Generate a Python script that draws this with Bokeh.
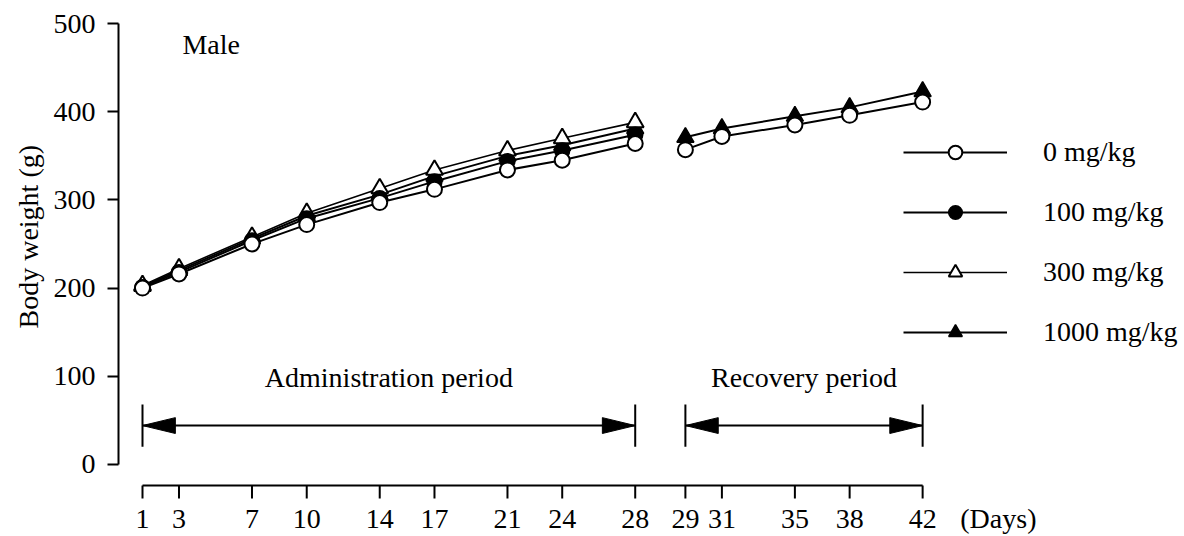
from bokeh.plotting import figure
from bokeh.models import Range1d, FixedTicker, Legend, LegendItem, Title
from bokeh.core.properties import value
from bokeh.embed import file_html
from bokeh.resources import INLINE

# ---- data ----
admin_days = [1, 3, 7, 10, 14, 17, 21, 24, 28]
recovery_days = [29, 31, 35, 38, 42]

w0_admin = [200, 216, 250, 272, 297, 312, 334, 345, 364]
w100_admin = [201, 218, 254, 279, 302, 321, 344, 356, 374]
w300_admin = [203, 222, 258, 285, 313, 334, 356, 370, 388]
w1000_admin = [202, 220, 256, 282, 306, 327, 350, 362, 381]

w0_recovery = [357, 372, 385, 396, 411]
w1000_recovery = [371, 381, 395, 405, 423]

group_labels = ["0 mg/kg", "100 mg/kg", "300 mg/kg", "1000 mg/kg"]
y_ticks = [0, 100, 200, 300, 400, 500]
admin_period = (1, 28)
recovery_period = (29, 42)
period_labels = ["Administration period", "Recovery period"]
x_unit_label = "(Days)"
y_title = "Body weight (g)"

GAP = 1.75  # axis break between day 28 and day 29
rec_pos = [d + GAP for d in recovery_days]

FONT = "Liberation Serif"
FS = "28px"

Y_MIN, Y_MAX = -41.02, 508.1
p = figure(width=1184, height=536,
           x_range=Range1d(-0.315, 58.10), y_range=Range1d(Y_MIN, Y_MAX),
           output_backend="svg", toolbar_location=None,
           min_border_left=118, min_border_right=0,
           min_border_top=16, min_border_bottom=34)
p.xgrid.visible = False
p.ygrid.visible = False
p.outline_line_color = None

# x axis: labels from the axis, line and ticks drawn as segments
xt = admin_days + rec_pos
days_pos = 47.9
overrides = {d: str(d) for d in admin_days}
for d, pos in zip(recovery_days, rec_pos):
    overrides[pos] = str(d)
overrides[days_pos] = x_unit_label
p.xaxis.ticker = FixedTicker(ticks=xt + [days_pos])
p.xaxis.major_label_overrides = overrides
p.xaxis.axis_line_color = None
p.xaxis.major_tick_line_color = None
p.xaxis.minor_tick_line_color = None
p.xaxis.major_tick_out = 0
p.xaxis.major_tick_in = 0
p.xaxis.major_label_standoff = 2

axis_y = -24.07
tick_end = -38.76
p.segment(x0=[admin_days[0]], x1=[recovery_days[-1] + GAP],
          y0=[axis_y], y1=[axis_y], line_color="black", line_width=2)
p.segment(x0=xt, x1=xt, y0=[axis_y] * len(xt), y1=[tick_end] * len(xt),
          line_color="black", line_width=2)

# y axis
p.yaxis.ticker = FixedTicker(ticks=y_ticks)
p.yaxis.bounds = (0, 500)
p.yaxis.axis_line_width = 2
p.yaxis.axis_line_color = "black"
p.yaxis.major_tick_line_width = 2
p.yaxis.major_tick_line_color = "black"
p.yaxis.major_tick_in = 0
p.yaxis.major_tick_out = 11
p.yaxis.minor_tick_line_color = None
p.yaxis.major_label_standoff = 12

for ax in (p.xaxis, p.yaxis):
    ax.major_label_text_font = FONT
    ax.major_label_text_font_size = FS
    ax.major_label_text_color = "black"

p.add_layout(Title(text=y_title, align="left", offset=172, standoff=13,
                   text_font=FONT, text_font_size=FS,
                   text_font_style="normal", text_color="black"), "left")

# ---- lines ----
l0 = p.line(admin_days, w0_admin, line_color="black", line_width=2)
l100 = p.line(admin_days, w100_admin, line_color="black", line_width=2)
l300 = p.line(admin_days, w300_admin, line_color="black", line_width=1.6)
l1000 = p.line(admin_days, w1000_admin, line_color="black", line_width=2)
p.line(rec_pos, w0_recovery, line_color="black", line_width=2)
p.line(rec_pos, w1000_recovery, line_color="black", line_width=2)

# ---- markers ----
s1000 = p.scatter(admin_days, w1000_admin, marker="triangle", size=17,
                  fill_color="black", line_color="black", line_width=1.5)
p.scatter(rec_pos, w1000_recovery, marker="triangle", size=17,
          fill_color="black", line_color="black", line_width=1.5)
s300 = p.scatter(admin_days, w300_admin, marker="triangle", size=17,
                 fill_color="white", line_color="black", line_width=2)
s100 = p.scatter(admin_days, w100_admin, marker="circle", size=15,
                 fill_color="black", line_color="black", line_width=1.5)
s0 = p.scatter(admin_days, w0_admin, marker="circle", size=15,
               fill_color="white", line_color="black", line_width=2)
p.scatter(rec_pos, w0_recovery, marker="circle", size=15,
          fill_color="white", line_color="black", line_width=2)

# ---- period arrows ----
arrow_y = 44
bar_half = 24
head_len = 1.8
head_half = 9
starts = [admin_period[0], recovery_period[0] + GAP]
ends = [admin_period[1], recovery_period[1] + GAP]
p.segment(x0=starts, x1=ends, y0=[arrow_y] * 2, y1=[arrow_y] * 2,
          line_color="black", line_width=2)
bars_x = starts + ends
p.segment(x0=bars_x, x1=bars_x, y0=[arrow_y - bar_half] * 4,
          y1=[arrow_y + bar_half] * 4, line_color="black", line_width=2)
head_xs = []
head_ys = []
for s, e in zip(starts, ends):
    head_xs.append([s, s + head_len, s + head_len])
    head_ys.append([arrow_y, arrow_y + head_half, arrow_y - head_half])
    head_xs.append([e, e - head_len, e - head_len])
    head_ys.append([arrow_y, arrow_y + head_half, arrow_y - head_half])
p.patches(head_xs, head_ys, fill_color="black", line_color="black", line_width=1)

p.text(x=[(s + e) / 2 for s, e in zip(starts, ends)], y=[99, 99],
       text=period_labels, text_align="center", text_baseline="middle",
       text_font=value(FONT), text_font_size=FS, text_color="black")

p.text(x=[3.19], y=[476], text=["Male"], text_align="left",
       text_baseline="middle", text_font=value(FONT), text_font_size=FS,
       text_color="black")

# ---- legend ----
legend = Legend(items=[
    LegendItem(label=group_labels[0], renderers=[l0, s0]),
    LegendItem(label=group_labels[1], renderers=[l100, s100]),
    LegendItem(label=group_labels[2], renderers=[l300, s300]),
    LegendItem(label=group_labels[3], renderers=[l1000, s1000]),
], location=(785, 151), glyph_width=104, glyph_height=34, label_height=34,
    label_standoff=36, spacing=26, padding=0, margin=0,
    border_line_color=None, background_fill_alpha=0,
    label_text_font=FONT, label_text_font_size=FS,
    label_text_color="black")
p.add_layout(legend)

open("out.html", "w").write(file_html(p, INLINE))
